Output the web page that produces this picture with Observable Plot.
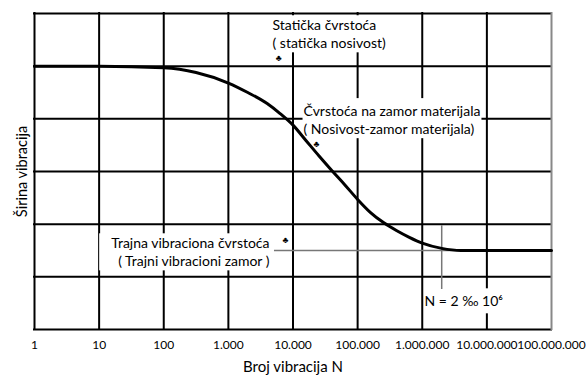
<!DOCTYPE html>
<html><head><meta charset="utf-8">
<script src="https://cdn.jsdelivr.net/npm/d3@7"></script>
<script src="https://cdn.jsdelivr.net/npm/@observablehq/plot@0.6"></script>
<style>body{margin:0;background:#fff} #chart{width:586px;height:378px}</style>
</head><body><div id="chart"></div>
<script>
// ---- data ----
const decades = [1, 10, 100, 1000, 10000, 100000, 1000000, 10000000, 100000000];
const tickLabels = ["1", "10", "100", "1.000", "10.000", "100.000", "1.000.000", "10.000.000", "100.000.000"];
const levels = [0, 1, 2, 3, 4, 5, 6];
const cyclesN = [1, 10, 100, 316, 1000, 1995, 3981, 6310, 10000, 15850, 25120, 39810, 63100, 100000, 158500, 251200, 398100, 631000, 1000000, 2000000, 3980000, 10000000, 100000000];
const amplitude = [5.0, 5.0, 4.97, 4.88, 4.68, 4.5, 4.29, 4.1, 3.88, 3.59, 3.3, 3.02, 2.75, 2.47, 2.22, 2.03, 1.88, 1.75, 1.64, 1.54, 1.5, 1.5, 1.5];
const labelTexts = [
  "Statička čvrstoća\n( statička nosivost)",
  "Čvrstoća na zamor materijala\n( Nosivost-zamor materijala)",
  "Trajna vibraciona čvrstoća\n( Trajni vibracioni zamor )",
  "N = 2 ‰ 10⁶"
];
const labelN = [4820, 14550, 4330, 1084000];
const labelValue = [5.62, 3.99, 1.48, 0.55];
const labelAnchors = ["start", "start", "end", "start"];
const clubN = [6000, 23100, 7660];
const clubValue = [5.16, 3.52, 1.69];
const enduranceLine = {value: 1.5, fromN: 5170, toN: 100000000};
const markerLine = {n: 2000000, from: 0.76, to: 1.97};
const xTitle = "Broj vibracija N";
const yTitle = "Širina vibracija";

// ---- style constants ----
const FONT = "Lato, 'Open Sans', sans-serif";
const boxPad = [[1, 2, 1, 2], [4, 1, 1, 1], [1, 3, 1, 12], [4, 2, 4, 0]]; // top,right,bottom,left

const curve = cyclesN.map((n, i) => ({n, a: amplitude[i]}));
const labels = labelTexts.map((t, i) => ({t, n: labelN[i], v: labelValue[i], anchor: labelAnchors[i]}));
const clubs = clubN.map((n, i) => ({n, v: clubValue[i]}));

const plot = Plot.plot({
  width: 586,
  height: 378,
  marginLeft: 34,
  marginRight: 35,
  marginTop: 13,
  marginBottom: 49,
  style: {fontFamily: FONT, fontSize: "12px", background: "#fff", color: "#000"},
  x: {type: "log", domain: [1, 100000000], ticks: decades, tickFormat: d => tickLabels[decades.indexOf(d)], tickSize: 0, tickPadding: 11, label: null},
  y: {domain: [0, 6], axis: null},
  marks: [
    Plot.ruleY(levels, {stroke: "#000", strokeWidth: 2, strokeLinecap: "square"}),
    Plot.ruleX(decades, {stroke: d => d === decades[decades.length - 1] ? "#888" : "#000", strokeWidth: 2, strokeLinecap: "square"}),
    Plot.ruleY([enduranceLine], {y: "value", x1: "fromN", x2: "toN", stroke: "#777", strokeWidth: 1.5}),
    Plot.ruleX([markerLine], {x: "n", y1: "from", y2: "to", stroke: "#777", strokeWidth: 1.5}),
    Plot.line(curve, {x: "n", y: "a", curve: "monotone-x", stroke: "#000", strokeWidth: 3}),
    ...labels.map(l => Plot.text([l], {x: "n", y: "v", text: "t", textAnchor: l.anchor, lineAnchor: "middle", lineHeight: 1.29, fontSize: 14, fill: "#000"})),
    Plot.text(clubs, {x: "n", y: "v", text: () => "♣", fontSize: 9, fill: "#000"}),
    Plot.text([xTitle], {frameAnchor: "bottom", text: d => d, textAnchor: "middle", dy: 42, fontSize: 15, fill: "#000"}),
    Plot.text([yTitle], {frameAnchor: "left", text: d => d, textAnchor: "middle", lineAnchor: "middle", rotate: -90, dx: -12, fontSize: 14.5, fill: "#000"})
  ]
});
document.getElementById("chart").append(plot);

// white label boxes that interrupt the grid, sized from the rendered text
const svgRect = plot.getBoundingClientRect();
const ruleGroups = plot.querySelectorAll('g[aria-label="rule"]');
const textGroups = plot.querySelectorAll('g[aria-label="text"]');
const boxG = document.createElementNS("http://www.w3.org/2000/svg", "g");
labels.forEach((l, i) => {
  const g = textGroups[i];
  if (!g) return;
  const r = g.getBoundingClientRect();
  const p = boxPad[i];
  const rect = document.createElementNS("http://www.w3.org/2000/svg", "rect");
  rect.setAttribute("x", r.left - svgRect.left - p[3]);
  rect.setAttribute("y", r.top - svgRect.top - p[0]);
  rect.setAttribute("width", r.width + p[1] + p[3]);
  rect.setAttribute("height", r.height + p[0] + p[2]);
  rect.setAttribute("fill", "#fff");
  boxG.append(rect);
});
if (ruleGroups.length >= 3) ruleGroups[2].parentNode.insertBefore(boxG, ruleGroups[2]);
</script>
</body></html>
